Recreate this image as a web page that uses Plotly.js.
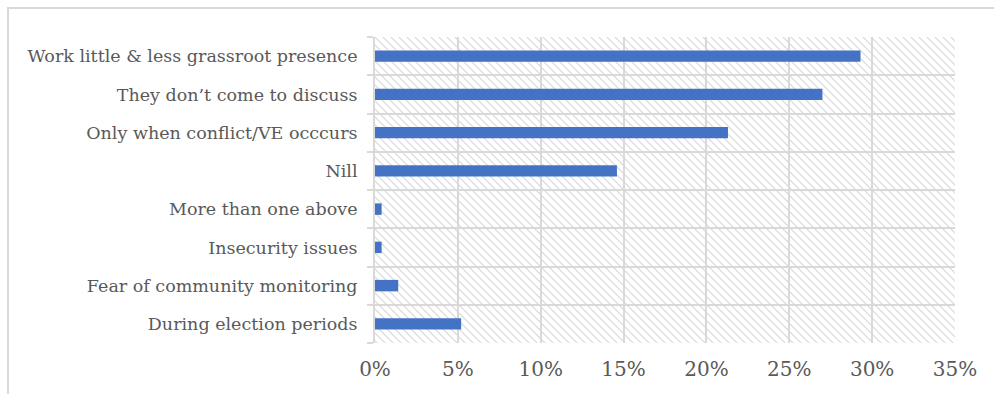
<!DOCTYPE html>
<html>
<head>
<meta charset="utf-8">
<script src="https://cdn.plot.ly/plotly-3.0.1.min.js"></script>
<style>
  body { margin: 0; padding: 0; background: #fff; }
  #wrap { position: relative; width: 994px; height: 394px; overflow: hidden; }
  #chart { width: 994px; height: 394px; }
  #frame { position: absolute; left: 7px; top: 7px; width: 1000px; height: 400px;
           border-left: 2px solid #d9d9d9; border-top: 2px solid #d9d9d9; pointer-events: none; }
</style>
</head>
<body>
<div id="wrap">
  <div id="chart"></div>
  <div id="frame"></div>
</div>
<script>
const categories = [
  "During election periods",
  "Fear of community monitoring",
  "Insecurity issues",
  "More than one above",
  "Nill",
  "Only when conflict/VE occcurs",
  "They don\u2019t come to discuss",
  "Work little & less grassroot presence"
];
const values = [0.052, 0.014, 0.004, 0.004, 0.146, 0.213, 0.270, 0.293];
const xTickVals = [0, 0.05, 0.10, 0.15, 0.20, 0.25, 0.30, 0.35];
const xTickText = ["0%", "5%", "10%", "15%", "20%", "25%", "30%", "35%"];

const hatchSvg = '<svg xmlns="http://www.w3.org/2000/svg" width="580" height="306">' +
  '<defs><pattern id="h" width="8" height="8" patternUnits="userSpaceOnUse">' +
  '<path d="M-2,-2 L10,10 M-2,6 L2,10 M6,-2 L10,2" stroke="#d6d6d6" stroke-width="1.1"/>' +
  '</pattern></defs><rect width="580" height="306" fill="url(#h)"/></svg>';
const hatchUri = 'data:image/svg+xml;base64,' + btoa(hatchSvg);

const trace = {
  type: 'bar',
  orientation: 'h',
  y: categories,
  x: values,
  width: 0.3,
  marker: { color: '#4472C4' },
  hoverinfo: 'x+y'
};

const layout = {
  width: 994,
  height: 394,
  margin: { l: 375, r: 39, t: 37, b: 51, pad: 0 },
  paper_bgcolor: '#ffffff',
  plot_bgcolor: 'rgba(0,0,0,0)',
  showlegend: false,
  font: { family: 'DejaVu Serif, serif', color: '#595959' },
  xaxis: {
    range: [0, 0.35],
    tickvals: xTickVals,
    ticktext: xTickText,
    showgrid: true,
    gridcolor: '#d9d9d9',
    gridwidth: 2,
    zeroline: false,
    showline: false,
    ticks: '',
    tickfont: { size: 20, color: '#595959' },
    ticklabelstandoff: 12,
    fixedrange: true
  },
  yaxis: {
    type: 'category',
    categoryorder: 'array',
    categoryarray: categories,
    tickson: 'boundaries',
    showgrid: true,
    gridcolor: '#d9d9d9',
    gridwidth: 2,
    ticks: 'outside',
    ticklen: 6,
    tickwidth: 2,
    tickcolor: '#d9d9d9',
    showline: true,
    linecolor: '#d9d9d9',
    linewidth: 2,
    zeroline: false,
    tickfont: { size: 17.5, color: '#595959' },
    ticklabelstandoff: 12,
    fixedrange: true
  },
  images: [{
    source: hatchUri,
    xref: 'paper', yref: 'paper',
    x: 0, y: 1, sizex: 1, sizey: 1,
    xanchor: 'left', yanchor: 'top',
    sizing: 'stretch',
    layer: 'below'
  }]
};

Plotly.newPlot('chart', [trace], layout, { displayModeBar: false, staticPlot: true });
</script>
</body>
</html>
